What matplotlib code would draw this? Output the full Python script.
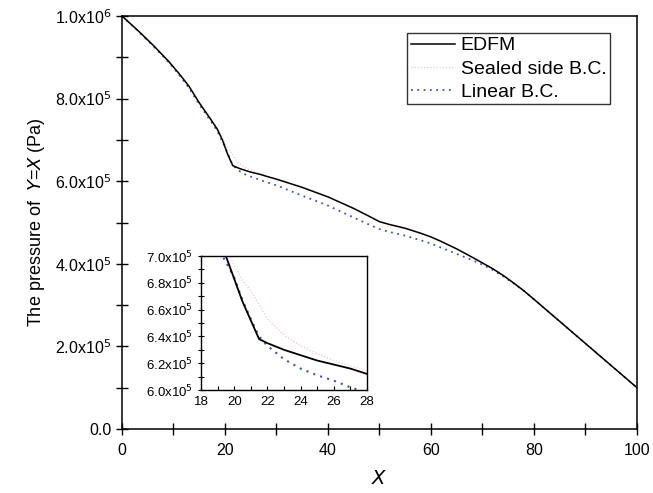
import math
import matplotlib
matplotlib.use("Agg")
import matplotlib.pyplot as plt
from matplotlib.ticker import MultipleLocator, FuncFormatter

plt.rcParams['font.family'] = ['Liberation Sans', 'DejaVu Sans']

# EDFM
edfm_x = [0, 3, 6, 9, 11, 13, 15, 17, 18.5, 19.5, 20, 20.5, 21, 21.5, 22, 23, 24, 25, 26, 27, 28, 30,
          35, 40, 45, 48, 50, 52, 55, 58, 60, 62, 65, 68, 70, 72, 74, 76, 78, 80, 90, 100]
edfm_y = [1000e3, 966e3, 930e3, 891e3, 862e3, 830e3, 790e3, 754e3, 726e3, 700e3, 683e3, 666e3, 652e3,
          638e3, 635e3, 630e3, 626e3, 622e3, 619e3, 616e3, 612e3, 605e3, 585e3, 562e3, 534e3, 515e3,
          502e3, 495e3, 486e3, 474e3, 465e3, 454e3, 436e3, 416e3, 402e3, 388e3, 372e3, 354e3, 335e3,
          314e3, 207e3, 100e3]

# Sealed side B.C.
sealed_x = [0, 3, 6, 9, 11, 13, 15, 17, 18.5, 19.5, 20, 20.5, 21, 21.5, 22, 23, 24, 25, 26, 27, 28, 30,
            35, 40, 45, 48, 50, 52, 55, 58, 60, 62, 65, 68, 70, 72, 74, 76, 78, 80, 90, 100]
sealed_y = [1000e3, 966e3, 930e3, 891e3, 862e3, 831e3, 791e3, 756e3, 729e3, 706e3, 693e3, 682e3, 674e3,
            664e3, 653e3, 641e3, 633e3, 627e3, 622e3, 618e3, 614e3, 606e3, 586e3, 563e3, 535e3, 516e3,
            503e3, 496e3, 487e3, 475e3, 466e3, 455e3, 437e3, 417e3, 403e3, 389e3, 373e3, 354e3, 335e3,
            314e3, 207e3, 100e3]

# Linear B.C.
linear_x = [0, 3, 6, 9, 11, 13, 15, 17, 18.5, 19.3, 20, 20.5, 21, 21.5, 22, 23, 24, 25, 26, 27, 28, 30,
            34.6, 40, 45, 48, 50, 52, 55, 58, 60, 62, 65, 68, 70, 72, 74, 76, 78, 80, 90, 100]
linear_y = [1000e3, 965e3, 928e3, 889e3, 859e3, 826e3, 786e3, 750e3, 722e3, 700e3, 684e3, 667e3, 653e3,
            640e3, 633e3, 623e3, 616e3, 611e3, 607e3, 602e3, 598e3, 590e3, 567e3, 541e3, 512e3, 495e3,
            484e3, 477e3, 468e3, 457e3, 449e3, 439e3, 424e3, 409e3, 398e3, 385e3, 370e3, 353e3, 335e3,
            314e3, 207e3, 100e3]

xticks_main = [0, 20, 40, 60, 80, 100]
yticks_main = [0, 2e5, 4e5, 6e5, 8e5, 1e6]
xticks_inset = [18, 20, 22, 24, 26, 28]
yticks_inset = [6.0e5, 6.2e5, 6.4e5, 6.6e5, 6.8e5, 7.0e5]


def sci(v, pos=None):
    if v == 0:
        return "0.0"
    e = int(math.floor(math.log10(abs(v)) + 1e-9))
    m = v / 10 ** e
    return r"%.1fx10$^{%d}$" % (m, e)


fig = plt.figure(figsize=(6.53, 4.93), dpi=100)
ax = fig.add_axes([0.1868, 0.1298, 0.7887, 0.8377])

c_edfm = 'black'
c_sealed = '#f5c4cf'
c_lin = '#3a55b8'

ax.plot(edfm_x, edfm_y, color=c_edfm, lw=1.1, label='EDFM', zorder=3)
ax.plot(sealed_x, sealed_y, color=c_sealed, lw=0.9, ls=(0, (1, 1.5)), label='Sealed side B.C.', zorder=2)
ax.plot(linear_x, linear_y, color=c_lin, lw=1.3, ls=(0, (1, 2.5)), label='Linear B.C.', zorder=2)

ax.set_xlim(0, 100)
ax.set_ylim(0, 1e6)
ax.set_xticks(xticks_main)
ax.set_yticks(yticks_main)
ax.xaxis.set_minor_locator(MultipleLocator(10))
ax.yaxis.set_minor_locator(MultipleLocator(1e5))
ax.yaxis.set_major_formatter(FuncFormatter(sci))
ax.tick_params(which='both', direction='inout', length=8, width=1, labelsize=11.5)
ax.tick_params(axis='x', pad=6)
for s in ax.spines.values():
    s.set_linewidth(1.1)

ax.set_xlabel('$\\mathit{X}$', fontsize=14, labelpad=9)
ax.set_ylabel('The pressure of  $\\mathit{Y}$=$\\mathit{X}$ (Pa)', fontsize=13, labelpad=6)

leg = ax.legend(loc='upper right', bbox_to_anchor=(0.948, 0.959), fontsize=14, frameon=True,
                fancybox=False, handlelength=2.25, handletextpad=0.3, borderpad=0.2,
                labelspacing=0.28, borderaxespad=0)
leg.get_frame().set_edgecolor('black')
leg.get_frame().set_linewidth(1.0)

# inset
axi = fig.add_axes([0.3078, 0.2089, 0.2542, 0.2718])
axi.plot(edfm_x, edfm_y, color=c_edfm, lw=1.3, zorder=3)
axi.plot(sealed_x, sealed_y, color=c_sealed, lw=0.9, ls=(0, (1, 1.5)), zorder=2)
axi.plot(linear_x, linear_y, color=c_lin, lw=1.5, ls=(0, (1, 2.5)), zorder=2)
axi.set_xlim(18, 28)
axi.set_ylim(6.0e5, 7.0e5)
axi.set_xticks(xticks_inset)
axi.set_yticks(yticks_inset)
axi.xaxis.set_minor_locator(MultipleLocator(1))
axi.yaxis.set_minor_locator(MultipleLocator(0.1e5))
axi.yaxis.set_major_formatter(FuncFormatter(sci))
axi.tick_params(which='both', direction='in', length=3, width=0.8, labelsize=9.5)
axi.tick_params(axis='y', which='both', direction='inout', length=4)
axi.tick_params(axis='x', pad=4)
for s in axi.spines.values():
    s.set_linewidth(1.0)

fig.savefig('out.png', dpi=100)
